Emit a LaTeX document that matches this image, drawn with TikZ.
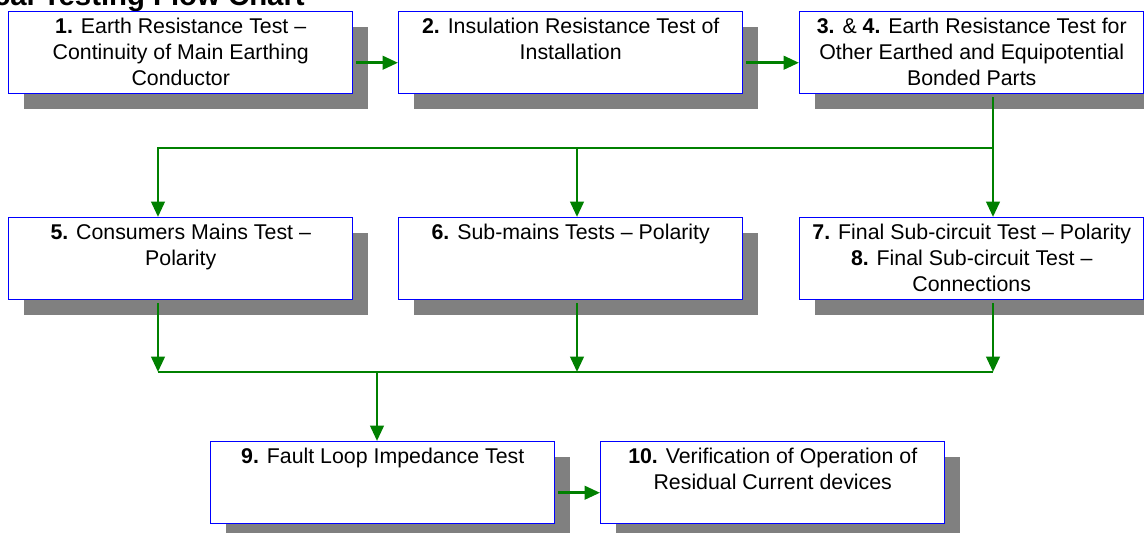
\documentclass[tikz,border=0pt]{standalone}
\usepackage{fontspec}
\setmainfont{Liberation Sans}
\usetikzlibrary{arrows.meta,shadows}
\definecolor{boxblue}{RGB}{0,0,255}
\definecolor{shadowgray}{RGB}{128,128,128}
\definecolor{flowgreen}{RGB}{0,128,0}
\def\steptext#1{\parbox[c][56pt][t]{255pt}{\centering\strut#1}}
\tikzset{
  testbox/.style={draw=boxblue, fill=white, line width=1.1pt, anchor=north west,
    minimum width=258pt, minimum height=61.5pt, inner sep=0pt,
    font={\fontsize{16}{19.5}\selectfont},
    drop shadow={shadow xshift=11.25pt, shadow yshift=-11.25pt, fill=shadowgray, opacity=1}},
  flowline/.style={draw=flowgreen, line width=2.2pt},
  flowarrow/.style={flowline, -{Triangle[length=11.5pt,width=10pt]}},
  offbox/.style={shorten <=2.25pt}
}
\begin{document}
\begin{tikzpicture}[x=0.75pt, y=-0.75pt]
			%%%%% START %%%%%
			\useasboundingbox (0,0) rectangle (1144,532);
			\clip (0,0) rectangle (1144,532);
			
			\node[anchor=base east, inner sep=0pt, font={\fontsize{22}{26}\selectfont\bfseries}] (title) at (305,5) {Electrical Testing Flow Chart};
			
			% first row
			\node[testbox] (s1) at (8,11) {\steptext{\textbf{1.} Earth Resistance Test –\\ Continuity of Main Earthing\\ Conductor}};
			\node[testbox] (s2) at (398,11) {\steptext{\textbf{2.} Insulation Resistance Test of\\ Installation}};
			\node[testbox] (s34) at (799,11) {\steptext{\textbf{3.} \& \textbf{4.} Earth Resistance Test for\\ Other Earthed and Equipotential\\ Bonded Parts}};
			
			% second row
			\node[testbox] (s5) at (8,217) {\steptext{\textbf{5.} Consumers Mains Test –\\ Polarity}};
			\node[testbox] (s6) at (398,217) {\steptext{\textbf{6.} Sub-mains Tests – Polarity}};
			\node[testbox] (s78) at (799,217) {\steptext{\textbf{7.} Final Sub-circuit Test – Polarity\\ \textbf{8.} Final Sub-circuit Test –\\ Connections}};
			
			% third row
			\node[testbox] (s9) at (210,441) {\steptext{\textbf{9.} Fault Loop Impedance Test}};
			\node[testbox] (s10) at (600,441) {\steptext{\textbf{10.} Verification of Operation of\\ Residual Current devices}};
			
			\coordinate (topsplit) at (993,148);
			\coordinate (topleft) at (158,148);
			\coordinate (topmid) at (577,148);
			\coordinate (lowleft) at (158,372);
			\coordinate (lowmid) at (577,372);
			\coordinate (lowright) at (993,372);
			\coordinate (lowdrop) at (377,372);
			
			\draw[flowarrow, offbox] ([yshift=-7.5pt]s1.east) -- ([yshift=-7.5pt]s2.west);
			\draw[flowarrow, offbox] ([yshift=-7.5pt]s2.east) -- ([yshift=-7.5pt]s34.west);
			
			\draw[flowarrow, offbox] (s34.south -| topsplit) -- (s78.north -| topsplit);
			\draw[flowarrow] (topsplit) -| (s5.north -| topleft);
			\draw[flowarrow] (topmid) -- (s6.north -| topmid);
			
			\draw[flowline] (lowleft) -- (lowright);
			\draw[flowarrow, offbox] (s5.south -| lowleft) -- (lowleft);
			\draw[flowarrow, offbox] (s6.south -| lowmid) -- (lowmid);
			\draw[flowarrow, offbox] (s78.south -| lowright) -- (lowright);
			\draw[flowarrow] (lowdrop) -- (s9.north -| lowdrop);
			
			\draw[flowarrow, offbox] ([yshift=-7.5pt]s9.east) -- ([yshift=-7.5pt]s10.west);
			%%%%% END %%%%%
\end{tikzpicture}
\end{document}
